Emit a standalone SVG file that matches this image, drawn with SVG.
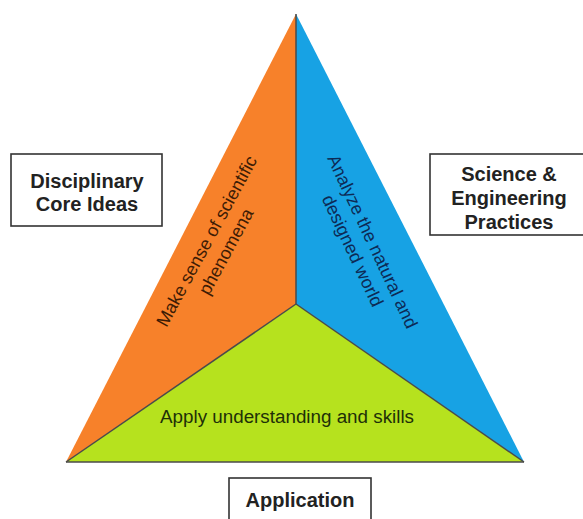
<svg xmlns="http://www.w3.org/2000/svg" width="583" height="519" viewBox="0 0 583 519">
<style>
.box{fill:#ffffff;stroke:#333333;stroke-width:1.6}
.lbl{font-family:"Liberation Sans",Arial,sans-serif;font-weight:bold;font-size:20px;fill:#222222;text-anchor:middle}
.inner{font-family:"Liberation Sans",Arial,sans-serif;font-size:18px;text-anchor:middle}
.edge{stroke:#4a4a4a;stroke-width:1.5;fill:none}
</style>
<rect width="583" height="519" fill="#ffffff"/>
<g id="triangle">
<polygon points="296,14 66,462 296,304" fill="#F7812A"/>
<polygon points="296,14 524,462 296,304" fill="#17A2E4"/>
<polygon points="66,462 524,462 296,304" fill="#B6E21E"/>
</g>
<g id="connectors">
<line class="edge" x1="296" y1="14" x2="296" y2="304"/>
<line class="edge" x1="296" y1="304" x2="66" y2="462" stroke-width="1"/>
<line class="edge" x1="296" y1="304" x2="524" y2="462" stroke-width="1"/>
<line class="edge" x1="66" y1="462" x2="524" y2="462" stroke="#6a6a6a"/>
</g>
<g id="orange-section">
<text class="inner" fill="#3d1c05" transform="translate(212,244) rotate(-61.5)"><tspan x="0" y="0">Make sense of scientific</tspan><tspan x="0" y="22">phenomena</tspan></text>
</g>
<g id="blue-section">
<text class="inner" fill="#0d2a55" transform="translate(367,244) rotate(65)"><tspan x="0" y="0">Analyze the natural and</tspan><tspan x="0" y="22">designed world</tspan></text>
</g>
<g id="green-section">
<text class="inner" fill="#1e3008" x="287" y="423" textLength="254" lengthAdjust="spacingAndGlyphs">Apply understanding and skills</text>
</g>
<g id="disciplinary-core-ideas">
<rect class="box" x="11" y="154" width="151" height="72"/>
<text class="lbl" x="87" y="188">Disciplinary</text>
<text class="lbl" x="87" y="211">Core Ideas</text>
</g>
<g id="science-engineering-practices">
<rect class="box" x="430" y="154" width="160" height="81"/>
<text class="lbl" x="509" y="181">Science &amp;</text>
<text class="lbl" x="509" y="205">Engineering</text>
<text class="lbl" x="509" y="229">Practices</text>
</g>
<g id="application">
<rect class="box" x="229" y="478" width="142" height="50"/>
<text class="lbl" x="300" y="507">Application</text>
</g>
</svg>
